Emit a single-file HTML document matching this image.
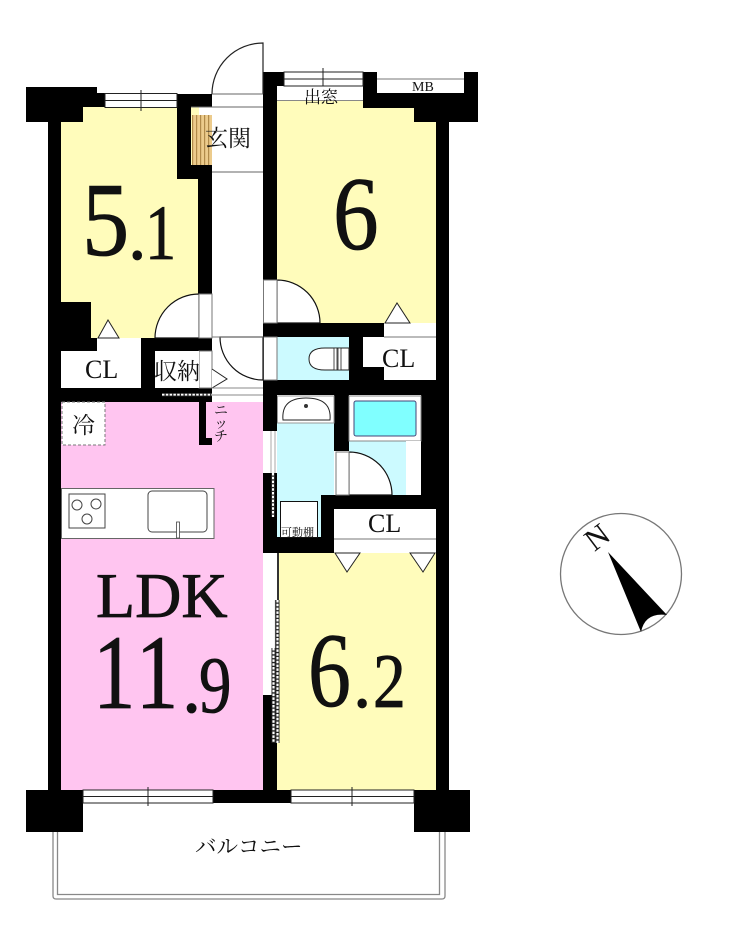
<!DOCTYPE html>
<html><head><meta charset="utf-8"><style>html,body{margin:0;padding:0;background:#fff}svg{display:block}
.s{font-family:"Liberation Serif","Noto Serif CJK JP",serif;fill:#111}
.b{stroke:#111;stroke-width:.8}</style></head><body>
<svg width="740" height="940" viewBox="0 0 740 940" xmlns="http://www.w3.org/2000/svg">
<defs>
<pattern id="wood" width="4" height="4" patternUnits="userSpaceOnUse"><rect width="4" height="4" fill="#eccb8c"/><rect width="1.2" height="4" fill="#b08a4a"/></pattern>
</defs>
<rect width="740" height="940" fill="#fff"/>
<!-- room fills -->
<rect x="61" y="107" width="138" height="231" fill="#fffcbb"/>
<rect x="277" y="100" width="159" height="223" fill="#fffcbb"/>
<rect x="277" y="553" width="159" height="237" fill="#fffcbb"/>
<rect x="61" y="402" width="202" height="388" fill="#ffc5f0"/>
<rect x="277" y="337" width="72" height="43" fill="#ccfaff"/>
<rect x="277" y="423" width="57" height="72" fill="#ccfaff"/>
<rect x="277" y="495" width="44" height="42" fill="#ccfaff"/>
<rect x="349" y="441" width="57" height="54" fill="#ccfaff"/>
<!-- balcony -->
<path d="M53 832V896Q53 899 56 899H442Q445 899 445 896V832" fill="none" stroke="#888" stroke-width="1.3"/>
<path d="M57.500 832V894.500H439.500V832" fill="none" stroke="#888" stroke-width="1.3"/>
<!-- walls -->
<g fill="#000">
<rect x="48" y="87" width="13" height="745"/>
<rect x="26" y="87" width="71" height="20"/><rect x="26" y="107" width="57" height="15"/><rect x="97" y="93" width="8" height="14"/>
<rect x="177" y="94" width="14" height="85"/><rect x="177" y="94" width="35" height="13"/>
<rect x="177" y="165" width="35" height="14"/>
<rect x="198" y="165" width="14" height="129"/>
<rect x="61" y="302" width="30" height="49"/><rect x="61" y="338" width="36" height="13"/>
<rect x="141" y="338" width="71" height="13"/><rect x="141" y="338" width="14" height="63"/>
<rect x="48" y="388" width="164" height="14"/>
<rect x="199" y="402" width="7" height="43"/><rect x="199" y="438" width="13" height="7"/>
<rect x="263" y="72" width="14" height="208"/><rect x="263" y="72" width="21" height="14"/>
<rect x="363" y="72" width="14" height="36"/><rect x="363" y="93" width="115" height="15"/><rect x="414" y="108" width="64" height="14"/><rect x="464" y="72" width="14" height="50"/>
<rect x="436" y="108" width="13" height="724"/>
<rect x="263" y="323" width="121" height="14"/>
<rect x="349" y="337" width="14" height="58"/><rect x="363" y="367" width="21" height="14"/>
<rect x="263" y="380" width="186" height="15"/>
<rect x="263" y="395" width="14" height="36"/>
<rect x="334" y="395" width="15" height="56"/>
<rect x="421" y="395" width="28" height="114"/>
<rect x="321" y="495" width="128" height="14"/>
<rect x="321" y="495" width="13" height="58"/>
<rect x="263" y="473" width="14" height="80"/>
<rect x="263" y="537" width="71" height="16"/>
<rect x="263" y="695" width="14" height="95"/>
<rect x="213" y="790" width="78" height="13"/>
<rect x="26" y="790" width="57" height="42"/>
<rect x="414" y="790" width="56" height="42"/>
</g>
<!-- windows -->
<g fill="#fff" stroke="#222" stroke-width="1">
<rect x="105" y="93.500" width="72" height="14"/><rect x="83" y="790" width="130" height="13"/><rect x="291" y="790" width="123" height="13"/><rect x="284" y="72" width="79" height="14"/>
</g>
<g stroke="#222" stroke-width="1">
<path d="M105 100.500H177M141 90V111M83 796.500H213M148 787V806M291 796.500H414M352 787V806M284 79H363M323 68V86" fill="none"/>
<path d="M377 79H464" stroke="#777"/>
</g>
<path d="M277 100.500H363" stroke="#888"/>
<!-- entrance -->
<path d="M212 94A51 51 0 0 1 263 43V94" fill="#fff" stroke="#222" stroke-width="1.200"/>
<path d="M212 94H263M191 107H263M212 172H263" stroke="#666" stroke-width="1"/>
<rect x="192" y="115" width="20" height="50" fill="url(#wood)"/>
<!-- doors -->
<path d="M199 338H155A44 44 0 0 1 199 294Z" fill="#fff" stroke="#111" stroke-width="1.200"/>
<rect x="199" y="294" width="13" height="44" fill="#fff" stroke="#777"/>
<rect x="199" y="351" width="13" height="37" fill="#fff" stroke="#777"/>
<path d="M277 323V280A43 43 0 0 1 320 323Z" fill="#fff" stroke="#111" stroke-width="1.200"/>
<rect x="263.500" y="280" width="13.500" height="43" fill="#fff" stroke="#777"/>
<rect x="263.500" y="337" width="13.500" height="43" fill="#fff" stroke="#777"/>
<path d="M220 337H263V380A43 43 0 0 1 220 337Z" fill="#fff" stroke="#111" stroke-width="1.200"/>
<path d="M212 337H263" stroke="#777"/>
<path d="M212 369L227 379L212 388" fill="#fff" stroke="#222" stroke-width="1"/>
<path d="M212 388H263M212 395H263" stroke="#888"/>
<rect x="162" y="393" width="50" height="3.500" fill="#222"/>
<path d="M162 394.700H212" stroke="#fff" stroke-width="1.800" stroke-dasharray="2.500 1.300"/>
<path d="M349 495V452A43 43 0 0 1 392 495Z" fill="#fff" stroke="#111" stroke-width="1.200"/>
<rect x="336" y="452" width="13" height="43" fill="#fff" stroke="#777"/>
<!-- closets -->
<rect x="61" y="351" width="80" height="37" fill="#fff"/>
<rect x="97" y="338" width="44" height="13" fill="#fff"/>
<path d="M98 338L108 320L119 338Z" fill="#fff" stroke="#222" stroke-width="1"/>
<rect x="155" y="351" width="44" height="37" fill="#fff"/>
<path d="M363 337H436V380H384V367H363Z" fill="#fff"/>
<rect x="384" y="323" width="52" height="14" fill="#fff"/><path d="M384 337H436" stroke="#777"/>
<path d="M385 323L397 303L410 323Z" fill="#fff" stroke="#222"/>
<rect x="334" y="509" width="102" height="44" fill="#fff"/><path d="M334 539H436" stroke="#777"/>
<path d="M335 553L347 572L360 553Z" fill="#fff" stroke="#222"/><path d="M410 553L423 572L435 553Z" fill="#fff" stroke="#222"/>
<!-- wash/bath -->
<rect x="277.500" y="396" width="56.500" height="27" fill="#fff" stroke="#999"/>
<path d="M283 420Q281 398 306 398Q332 398 330 420Z" fill="#fff" stroke="#222"/>
<circle cx="306" cy="406" r="2" fill="#333"/>
<rect x="349" y="396" width="72" height="45" fill="#fff" stroke="#888"/>
<rect x="354" y="401" width="62" height="35" rx="2" fill="#80ffff" stroke="#447" stroke-width="1"/>
<rect x="406" y="441" width="15" height="54" fill="#fff"/>
<rect x="280.500" y="501.500" width="37" height="36" fill="#fff" stroke="#111"/>
<!-- corridor strips -->
<rect x="263" y="431" width="14" height="42" fill="#fff"/><path d="M271 431V473M275 431V473" stroke="#aaa"/>
<rect x="271" y="473" width="4" height="44" fill="#222"/><path d="M273 473V517" stroke="#fff" stroke-width="2" stroke-dasharray="2.500 1.300"/>
<rect x="263" y="553" width="14" height="142" fill="#fff"/>
<rect x="277" y="553" width="2" height="48" fill="#333"/>
<path d="M275.500 600V648M272.500 648V695" stroke="#666" stroke-width="1.200"/>
<rect x="275.500" y="600" width="4" height="143" fill="#222"/><path d="M277.500 600V743" stroke="#fff" stroke-width="2.200" stroke-dasharray="2.500 1.300"/>
<rect x="271.500" y="648" width="4" height="95" fill="#222"/><path d="M273.500 648V743" stroke="#fff" stroke-width="2.200" stroke-dasharray="2.500 1.300"/>
<!-- toilet -->
<path d="M349 348H325Q309 348 309 359Q309 370 325 370H349Z" fill="#fff" stroke="#222"/>
<rect x="334" y="348" width="3" height="22" fill="#fff" stroke="#222" stroke-width=".8"/>
<rect x="338" y="348" width="3" height="22" fill="#fff" stroke="#222" stroke-width=".8"/>
<!-- fridge -->
<rect x="62" y="402" width="43" height="43" fill="#fff" stroke="#777" stroke-dasharray="3 2"/>
<!-- kitchen -->
<rect x="61.500" y="488.500" width="152.500" height="50" fill="#fff" stroke="#666"/>
<rect x="69" y="494" width="36" height="34" fill="#fff" stroke="#444"/>
<g fill="none" stroke="#444"><circle cx="77" cy="505" r="5"/><circle cx="96" cy="504" r="5"/><circle cx="87" cy="519" r="5"/></g>
<rect x="148" y="491" width="59" height="41" rx="4" fill="#fff" stroke="#444"/>
<rect x="176.500" y="522" width="3" height="16" fill="#fff" stroke="#444" stroke-width=".8"/>
<!-- compass -->
<circle cx="621" cy="574" r="60.500" fill="#fff" stroke="#777" stroke-width="1.300"/>
<path d="M608 552L667 615Q645 612 641 632Z" fill="#000"/>
<text class="s" transform="translate(597 537) rotate(-37)" font-size="31" text-anchor="middle" dominant-baseline="central">N</text>
<!-- big labels -->
<g class="s">
<g class="b">
<text transform="translate(82 255) scale(.9 1)" font-size="105">5</text>
<text transform="translate(128 259) scale(.95 1)" font-size="78">.</text>
<text transform="translate(145 259) scale(.8 1)" font-size="78">1</text>
<text transform="translate(333 249) scale(.87 1)" font-size="105">6</text>
<text x="96" y="617" font-size="64">LDK</text>
<text transform="translate(93 708) scale(.8 1)" font-size="106" letter-spacing="4.500">11</text>
<text transform="translate(182 712) scale(.95 1)" font-size="81">.</text>
<text transform="translate(199 712) scale(.8 1)" font-size="81">9</text>
<text transform="translate(308 706) scale(.81 1)" font-size="106">6</text>
<text transform="translate(353 707) scale(.95 1)" font-size="77">.</text>
<text transform="translate(373 707) scale(.85 1)" font-size="77">2</text>
</g>
<text x="85" y="378" font-size="26">CL</text>
<text x="382" y="367" font-size="26">CL</text>
<text x="368" y="532" font-size="26">CL</text>
<text x="154" y="379" font-size="23">収納</text>
<text x="205" y="146" font-size="23">玄関</text>
<text x="304" y="103" font-size="17">出窓</text>
<text x="412" y="91" font-size="14">MB</text>
<text x="72" y="433" font-size="23">冷</text>
<text x="281" y="536" font-size="11">可動棚</text>
<text x="195" y="854" font-size="21.500">バルコニー</text>
<text x="214" y="415" font-size="14">ニ</text><text x="214" y="428" font-size="14">ッ</text><text x="214" y="441" font-size="14">チ</text>
</g>
</svg>
</body></html>
